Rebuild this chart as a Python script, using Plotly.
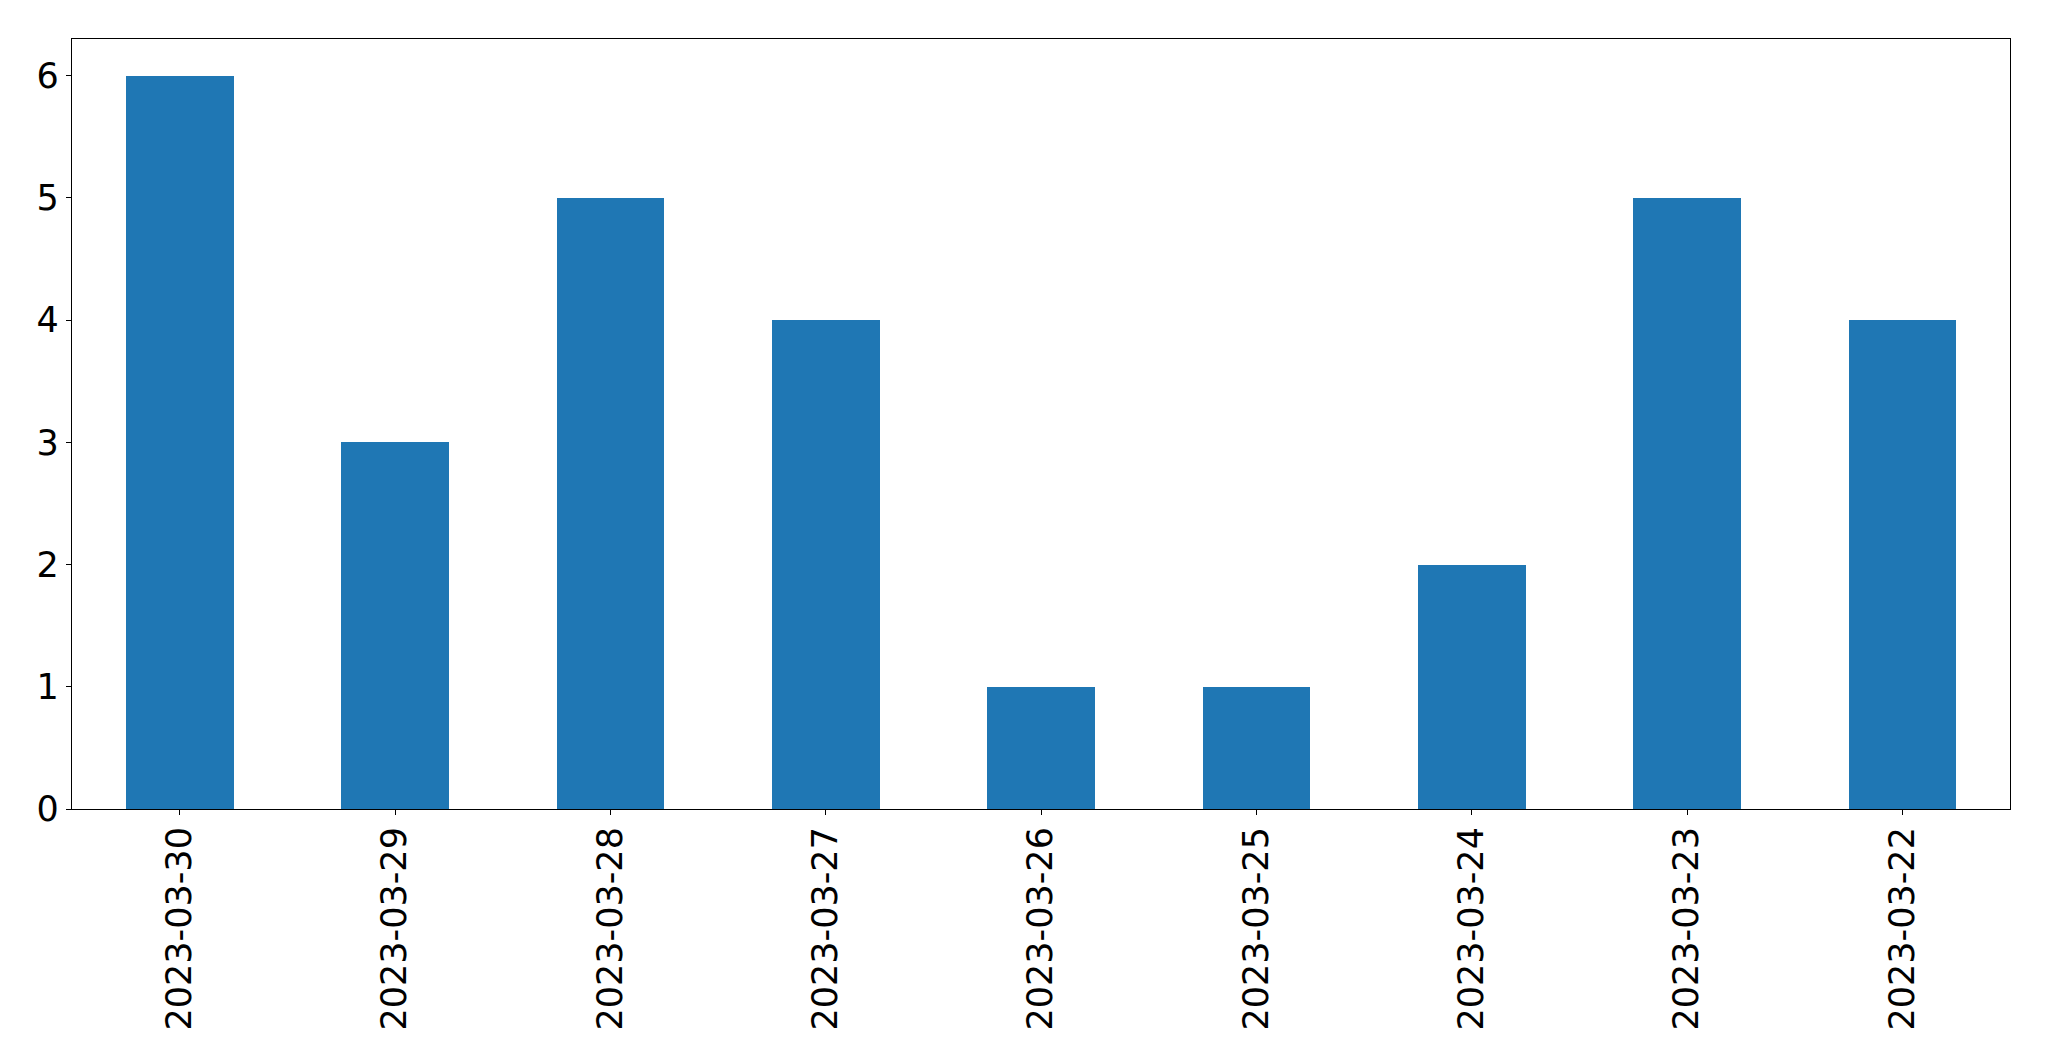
import plotly.graph_objects as go

## DATA
dates = ['2023-03-30', '2023-03-29', '2023-03-28', '2023-03-27', '2023-03-26',
         '2023-03-25', '2023-03-24', '2023-03-23', '2023-03-22']
counts = [6, 3, 5, 4, 1, 1, 2, 5, 4]
yTicks = [0, 1, 2, 3, 4, 5, 6]

fig = go.Figure()
fig.add_trace(go.Bar(x=dates, y=counts, width=0.5, marker_color='#1f77b4',
                     marker_line_width=0))

fontSpec = dict(family='DejaVu Sans', size=35, color='black')

# page body adds an 8px margin, so the figure is 8px smaller and shifted
fig.update_layout(
    width=2041, height=1053,
    margin=dict(l=64, r=39, t=31, b=252),
    plot_bgcolor='white', paper_bgcolor='white',
    font=fontSpec, showlegend=False, bargap=0,
)
fig.update_xaxes(type='category', range=[-0.5, len(dates) - 0.5], automargin=False,
                 tickangle=-90, ticks='outside', ticklen=5, tickwidth=1.2,
                 tickcolor='black', showline=True, linecolor='black', linewidth=1.2,
                 mirror=True, showgrid=False, zeroline=False, tickfont=fontSpec,
                 ticklabelstandoff=-2)
fig.update_yaxes(range=[0, 6.3], tickvals=yTicks, automargin=False, ticks='outside',
                 ticklen=5, tickwidth=1.2, tickcolor='black', showline=True,
                 linecolor='black', linewidth=1.2, mirror=True, showgrid=False,
                 zeroline=False, tickfont=fontSpec, ticklabelstandoff=0)

fig.write_html("out.html")
